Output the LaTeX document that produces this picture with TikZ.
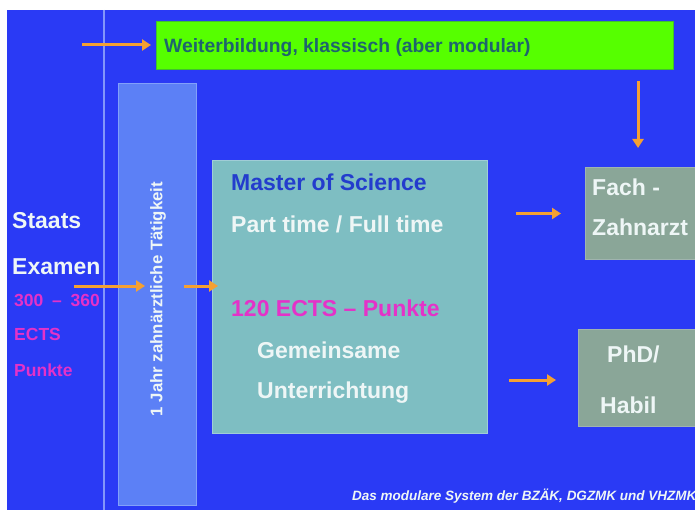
\documentclass[tikz,border=0pt]{standalone}
\usepackage{fontspec}
\setmainfont{Liberation Sans}
\usetikzlibrary{arrows.meta,calc}
\definecolor{bgblue}{RGB}{42,58,245}
\definecolor{sepline}{RGB}{130,150,250}
\definecolor{barblue}{RGB}{92,128,246}
\definecolor{barborder}{RGB}{130,160,250}
\definecolor{teal}{RGB}{126,190,194}
\definecolor{tealborder}{RGB}{160,205,215}
\definecolor{greybox}{RGB}{138,166,152}
\definecolor{greyborder}{RGB}{160,180,175}
\definecolor{lime}{RGB}{86,255,0}
\definecolor{limetext}{RGB}{30,100,110}
\definecolor{arrorange}{RGB}{245,160,50}
\definecolor{magentatext}{RGB}{228,50,200}
\definecolor{darkbluetext}{RGB}{35,60,205}
\definecolor{lighttext}{RGB}{238,246,246}
\begin{document}
\begin{tikzpicture}[x=1pt,y=-1pt,
  box/.style={anchor=north west,inner sep=0pt,line width=1pt},
  arr/.style={draw=arrorange,line width=3pt,-{Triangle[length=9pt,width=11pt]}},
  txt/.style={anchor=base west,inner sep=0pt,font=\bfseries\fontsize{23}{27}\selectfont},
  small/.style={anchor=base west,inner sep=0pt,font=\bfseries\fontsize{17.5}{20}\selectfont,text=magentatext}]
\useasboundingbox (0,0) rectangle (695,510);
\fill[white] (0,0) rectangle (695,510);
\fill[bgblue] (7,10) rectangle (700,515);
\draw[sepline,line width=1.2pt] (104,10) -- (104,510);
% boxes
\node[box,fill=lime,draw=limetext!40!lime,minimum width=517pt,minimum height=48pt] (green) at (156,21) {};
\node[box,fill=barblue,draw=barborder,minimum width=78pt,minimum height=422pt] (bar) at (118,83) {};
\node[box,fill=teal,draw=tealborder,minimum width=275pt,minimum height=273pt] (master) at (212,160) {};
\node[box,fill=greybox,draw=greyborder,minimum width=120pt,minimum height=92pt] (fach) at (585,167) {};
\node[box,fill=greybox,draw=greyborder,minimum width=125pt,minimum height=97pt] (phd) at (578,329) {};
% texts
\node[anchor=base west,inner sep=0pt,font=\bfseries\fontsize{19.3}{22}\selectfont,text=limetext] (tw) at (164,53) {Weiterbildung, klassisch (aber modular)};
\node[rotate=90,inner sep=0pt,font=\bfseries\fontsize{16.8}{19}\selectfont,text=lighttext] (tbar) at (158,299) {1 Jahr zahnärztliche Tätigkeit};
\node[txt,text=lighttext] (t1) at (12,229) {Staats};
\node[txt,text=lighttext] (t2) at (12,274) {Examen};
\node[small] (t3) at (14,306) {300\hspace{0.5em}–\hspace{0.5em}360};
\node[small] (t4) at (14,340) {ECTS};
\node[small] (t5) at (14,376) {Punkte};
\node[txt,text=darkbluetext] (m1) at (231,191) {Master of Science};
\node[txt,text=lighttext] (m2) at (231,233) {Part time / Full time};
\node[txt,text=magentatext] (m3) at (231,316) {120 ECTS – Punkte};
\node[txt,text=lighttext] (m4) at (257,358) {Gemeinsame};
\node[txt,text=lighttext] (m5) at (257,398) {Unterrichtung};
\node[txt,text=lighttext] (f1) at (592,196) {Fach -};
\node[txt,text=lighttext] (f2) at (592,236) {Zahnarzt};
\node[txt,text=lighttext] (p1) at (607,362) {PhD/};
\node[txt,text=lighttext] (p2) at (600,413) {Habil};
\node[anchor=base west,inner sep=0pt,font=\bfseries\itshape\fontsize{13.5}{15}\selectfont,text=lighttext] (cap) at (352,500) {Das modulare System der BZÄK, DGZMK und VHZMK};
% arrows
\coordinate (s0) at (82,45);
\coordinate (s1) at (74,286);
\draw[arr,shorten >=5pt] (s0) -- (s0 -| green.west);
\draw[arr,shorten <=11pt,shorten >=19pt] (green.south -| 638,0) -- (fach.north -| 638,0);
\draw[arr,shorten >=-27pt] (s1) -- (s1 -| bar.west);
\draw[arr,shorten <=-13pt,shorten >=-6pt] (s1 -| bar.east) -- (s1 -| master.west);
\draw[arr,shorten <=28pt,shorten >=24pt] (master.east |- fach.west) -- (fach.west);
\draw[arr,shorten <=21pt,shorten >=22pt] (master.east |- 0,380) -- (phd.west |- 0,380);
\end{tikzpicture}
\end{document}
